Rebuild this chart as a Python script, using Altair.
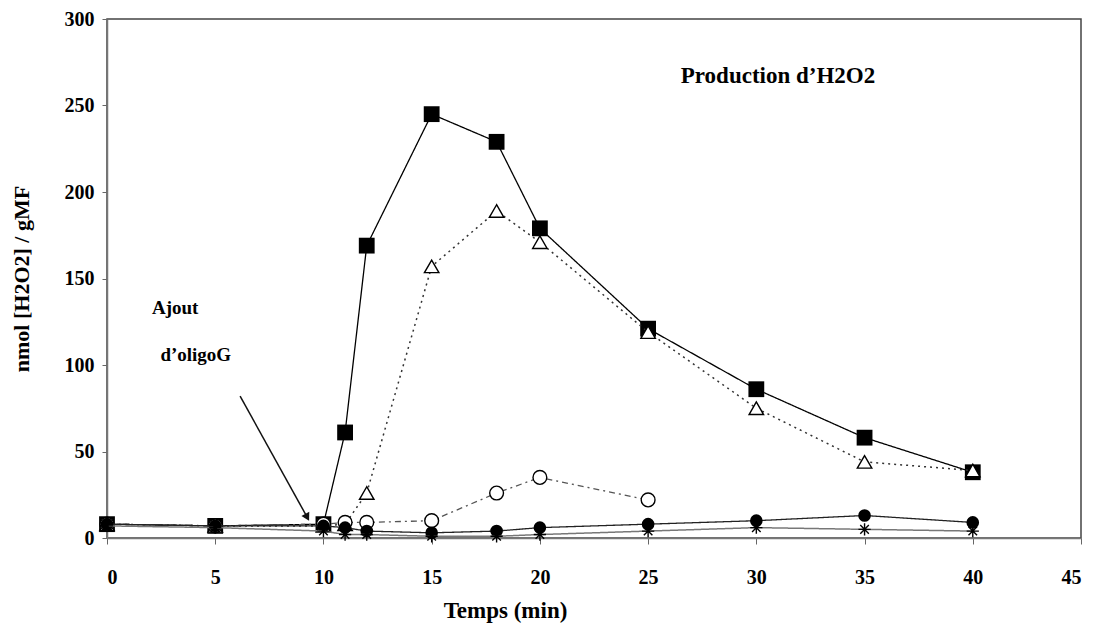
import altair as alt
import pandas as pd

# ---- data ----
t_sq = [0, 5, 10, 11, 12, 15, 18, 20, 25, 30, 35, 40]
v_sq = [8, 7, 8, 61, 169, 245, 229, 179, 121, 86, 58, 38]

t_tri = [0, 5, 10, 11, 12, 15, 18, 20, 25, 30, 35, 40]
v_tri = [8, 7, 7, 8, 26, 157, 189, 171, 119, 75, 44, 39]

t_oc = [0, 5, 10, 11, 12, 15, 18, 20, 25]
v_oc = [8, 7, 8, 9, 9, 10, 26, 35, 22]

t_fc = [0, 5, 10, 11, 12, 15, 18, 20, 25, 30, 35, 40]
v_fc = [8, 7, 7, 6, 4, 3, 4, 6, 8, 10, 13, 9]

t_x = [0, 5, 10, 11, 12, 15, 18, 20, 25, 30, 35, 40]
v_x = [7, 6, 4, 2, 2, 1, 1, 2, 4, 6, 5, 4]

series_names = ["A", "B", "C", "D", "E"]
series_t = [t_sq, t_tri, t_oc, t_fc, t_x]
series_v = [v_sq, v_tri, v_oc, v_fc, v_x]

x_ticks = [0, 5, 10, 15, 20, 25, 30, 35, 40, 45]
y_ticks = [0, 50, 100, 150, 200, 250, 300]

title_text = ["Production d\u2019H2O2"]
title_x = [31.0]
title_y = [267]

ann_text = ["Ajout", "d\u2019oligoG"]
ann_x = [3.15, 4.1]
ann_y = [133, 106]

arrow_x = [6.15, 9.25]
arrow_y = [82, 12]

FONT = "Liberation Serif"

styles = {
    "A": dict(shape="square", filled=True, size=250, line_color="black", dash=[1, 0], lw=1.3),
    "B": dict(shape="triangle-up", filled=False, size=210, line_color="#333", dash=[2, 4], lw=1.5),
    "C": dict(shape="circle", filled=False, size=190, line_color="#555", dash=[6, 4, 2, 4], lw=1.3),
    "D": dict(shape="circle", filled=True, size=160, line_color="#222", dash=[1, 0], lw=1.3),
    "E": dict(shape="M-1,0L1,0M0,-1L0,1M-0.7,-0.7L0.7,0.7M-0.7,0.7L0.7,-0.7",
              filled=False, size=150, line_color="#777", dash=[1, 0], lw=1.5),
}

xscale = alt.Scale(domain=[0, 45], nice=False, zero=False)
yscale = alt.Scale(domain=[0, 300], nice=False)

xaxis = alt.Axis(values=x_ticks, title="Temps (min)", grid=False, titleX=398)
yaxis = alt.Axis(values=y_ticks, title="nmol [H2O2] / gMF", grid=False)


def X(field):
    return alt.X(field, scale=xscale, axis=xaxis)


def Y(field):
    return alt.Y(field, scale=yscale, axis=yaxis)


layers = []
for name, ts, vs in zip(series_names, series_t, series_v):
    df = pd.DataFrame({"t": ts, "v": vs, "s": name})
    st = styles[name]
    line = alt.Chart(df).mark_line(
        color=st["line_color"], strokeDash=st["dash"], strokeWidth=st["lw"]
    ).encode(x=X("t:Q"), y=Y("v:Q"))
    pts = alt.Chart(df).mark_point(
        shape=st["shape"], filled=st["filled"], size=st["size"],
        color="black", fill="black" if st["filled"] else "white",
        strokeWidth=1.4, opacity=1
    ).encode(x=X("t:Q"), y=Y("v:Q"))
    layers += [line, pts]

title_df = pd.DataFrame({"t": title_x, "v": title_y, "txt": title_text})
title_layer = alt.Chart(title_df).mark_text(
    font=FONT, fontSize=23, fontWeight="bold", color="black"
).encode(x=X("t:Q"), y=Y("v:Q"), text="txt:N")

ann_df = pd.DataFrame({"t": ann_x, "v": ann_y, "txt": ann_text})
ann_layer = alt.Chart(ann_df).mark_text(
    font=FONT, fontSize=19, fontWeight="bold", color="black"
).encode(x=X("t:Q"), y=Y("v:Q"), text="txt:N")

arrow_df = pd.DataFrame({"t": arrow_x, "v": arrow_y, "o": [0, 1]})
arrow_line = alt.Chart(arrow_df).mark_line(color="#111", strokeWidth=1.5).encode(
    x=X("t:Q"), y=Y("v:Q"), order="o:Q")
arrow_head = alt.Chart(arrow_df.iloc[[1]]).mark_point(
    shape="triangle-up", filled=True, color="#111", size=80, angle=151, opacity=1
).encode(x=X("t:Q"), y=Y("v:Q"))

chart = alt.layer(*layers, title_layer, ann_layer, arrow_line, arrow_head).properties(
    width=974, height=519,
    padding={"left": 99, "top": 11, "right": 8, "bottom": 85},
    autosize=alt.AutoSizeParams(type="none"),
).configure_view(
    stroke="#444", strokeWidth=1.5
).configure_axis(
    labelFont=FONT, titleFont=FONT, labelFontSize=20, titleFontSize=22,
    labelFontWeight="bold", titleFontWeight="bold",
    labelColor="black", titleColor="black",
    domainColor="#777", tickColor="#666", domainWidth=1.5,
).configure_axisX(
    tickSize=6, labelPadding=23, titlePadding=12, titleFontSize=23,
).configure_axisY(
    tickSize=5, labelPadding=8, titlePadding=31,
)

chart.save("out.html", embed_options={"renderer": "svg", "actions": False})
